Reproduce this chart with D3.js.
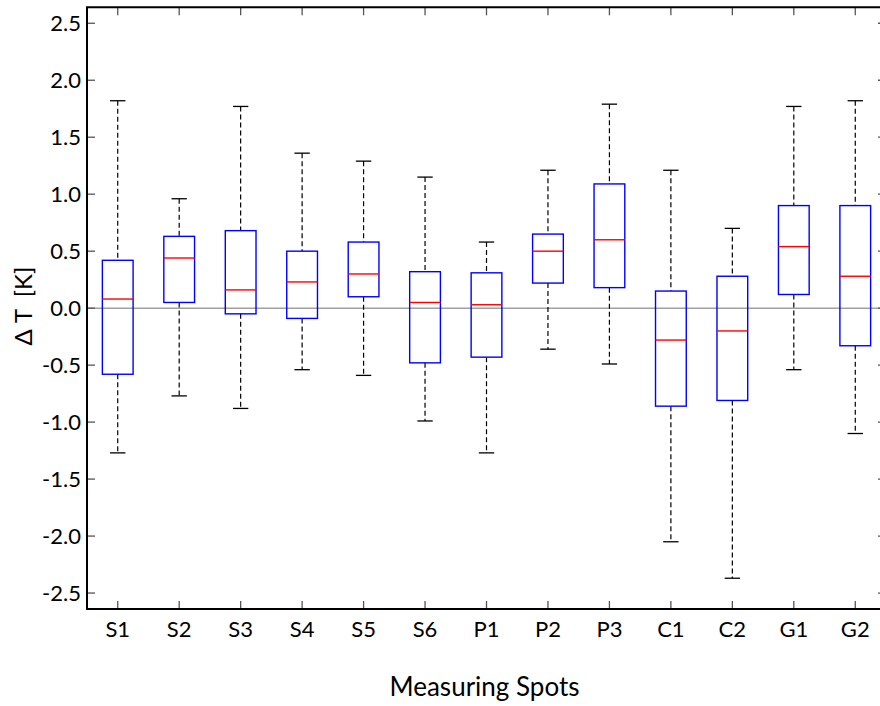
<!DOCTYPE html>
<html>
<head>
<meta charset="utf-8">
<script src="https://cdn.jsdelivr.net/npm/d3@7"></script>
<style>
  body { margin: 0; background: #fff; }
  text { font-family: Lato, "Open Sans", sans-serif; fill: #000; }
</style>
</head>
<body>
<svg id="chart" width="880" height="706"></svg>
<script>
// measuring spots and box statistics
const spots = ["S1","S2","S3","S4","S5","S6","P1","P2","P3","C1","C2","G1","G2"];
const whiskerHigh = [1.82, 0.96, 1.77, 1.36, 1.29, 1.15, 0.58, 1.21, 1.79, 1.21, 0.70, 1.77, 1.82];
const q3Values    = [0.42, 0.63, 0.68, 0.50, 0.58, 0.32, 0.31, 0.65, 1.09, 0.15, 0.28, 0.90, 0.90];
const medians     = [0.08, 0.44, 0.16, 0.23, 0.30, 0.05, 0.03, 0.50, 0.60, -0.28, -0.20, 0.54, 0.28];
const q1Values    = [-0.58, 0.05, -0.05, -0.09, 0.10, -0.48, -0.43, 0.22, 0.18, -0.86, -0.81, 0.12, -0.33];
const whiskerLow  = [-1.27, -0.77, -0.88, -0.54, -0.59, -0.99, -1.27, -0.36, -0.49, -2.05, -2.37, -0.54, -1.10];
const yTicks = [-2.5, -2.0, -1.5, -1.0, -0.5, 0.0, 0.5, 1.0, 1.5, 2.0, 2.5];

const boxes = spots.map(function(s, i){
    return {name: s, pos: i + 1, hi: whiskerHigh[i], q3: q3Values[i],
            med: medians[i], q1: q1Values[i], lo: whiskerLow[i]};
});

const svg = d3.select("#chart");
const plotLeft = 87, plotRight = 886, plotTop = 7.3, plotBottom = 609;

const x = d3.scaleLinear().domain([0.5, spots.length + 0.5]).range([plotLeft, plotRight]);
const y = d3.scaleLinear().domain([-2.64, 2.64]).range([plotBottom, plotTop]);

const boxW = x(1.25) - x(1);   // half width of a box
const capW = x(1.125) - x(1);

// zero line
svg.append("line")
    .attr("x1", plotLeft).attr("x2", plotRight)
    .attr("y1", y(0)).attr("y2", y(0))
    .style("stroke", "#a0a0a0").style("stroke-width", 1.5);

// ticks: left/right on y values, top/bottom on categories
const tickG = svg.append("g").style("stroke", "#555").style("stroke-width", 1.3);
yTicks.forEach(function(v){
    tickG.append("line").attr("x1", plotLeft).attr("x2", plotLeft + 8).attr("y1", y(v)).attr("y2", y(v));
    tickG.append("line").attr("x1", plotRight).attr("x2", plotRight - 8).attr("y1", y(v)).attr("y2", y(v));
});
boxes.forEach(function(d){
    tickG.append("line").attr("x1", x(d.pos)).attr("x2", x(d.pos)).attr("y1", plotTop).attr("y2", plotTop + 8);
    tickG.append("line").attr("x1", x(d.pos)).attr("x2", x(d.pos)).attr("y1", plotBottom).attr("y2", plotBottom - 8);
});

const node = svg.selectAll(".box")
    .data(boxes)
    .enter().append("g")
    .attr("class", "box");

// whiskers
node.append("line")
    .attr("x1", d => x(d.pos)).attr("x2", d => x(d.pos))
    .attr("y1", d => y(d.hi)).attr("y2", d => y(d.q3))
    .style("stroke", "#000").style("stroke-width", 1.2).style("stroke-dasharray", "5,3");
node.append("line")
    .attr("x1", d => x(d.pos)).attr("x2", d => x(d.pos))
    .attr("y1", d => y(d.q1)).attr("y2", d => y(d.lo))
    .style("stroke", "#000").style("stroke-width", 1.2).style("stroke-dasharray", "5,3");

// caps
node.append("line")
    .attr("x1", d => x(d.pos) - capW).attr("x2", d => x(d.pos) + capW)
    .attr("y1", d => y(d.hi)).attr("y2", d => y(d.hi))
    .style("stroke", "#000").style("stroke-width", 1.3);
node.append("line")
    .attr("x1", d => x(d.pos) - capW).attr("x2", d => x(d.pos) + capW)
    .attr("y1", d => y(d.lo)).attr("y2", d => y(d.lo))
    .style("stroke", "#000").style("stroke-width", 1.3);

// boxes
node.append("rect")
    .attr("x", d => x(d.pos) - boxW)
    .attr("width", boxW * 2)
    .attr("y", d => y(d.q3))
    .attr("height", d => y(d.q1) - y(d.q3))
    .style("fill", "none")
    .style("stroke", "#0000ff")
    .style("stroke-width", 1.4);

// medians
node.append("line")
    .attr("x1", d => x(d.pos) - boxW).attr("x2", d => x(d.pos) + boxW)
    .attr("y1", d => y(d.med)).attr("y2", d => y(d.med))
    .style("stroke", "#ff0000").style("stroke-width", 1.4);

// frame
svg.append("path")
    .attr("d", "M" + plotRight + "," + plotTop + "H" + plotLeft + "V" + plotBottom + "H" + plotRight)
    .style("fill", "none").style("stroke", "#000").style("stroke-width", 2);

// tick labels
svg.selectAll(".ylab")
    .data(yTicks)
    .enter().append("text")
    .attr("class", "ylab")
    .attr("x", plotLeft - 6)
    .attr("y", d => y(d))
    .attr("dy", "0.36em")
    .attr("text-anchor", "end")
    .style("font-size", "22px")
    .text(d => d.toFixed(1));

svg.selectAll(".xlab")
    .data(boxes)
    .enter().append("text")
    .attr("class", "xlab")
    .attr("x", d => x(d.pos))
    .attr("y", 637)
    .attr("text-anchor", "middle")
    .style("font-size", "22px")
    .text(d => d.name);

// axis titles
svg.append("text")
    .attr("x", (plotLeft + plotRight) / 2 - 2)
    .attr("y", 696)
    .attr("text-anchor", "middle")
    .style("font-size", "26px")
    .text("Measuring Spots");

svg.append("text")
    .attr("transform", "translate(32," + (y(0) - 2) + ") rotate(-90)")
    .attr("text-anchor", "middle")
    .style("font-size", "24px")
    .style("white-space", "pre")
    .text("\u0394 T  [K]");
</script>
</body>
</html>
